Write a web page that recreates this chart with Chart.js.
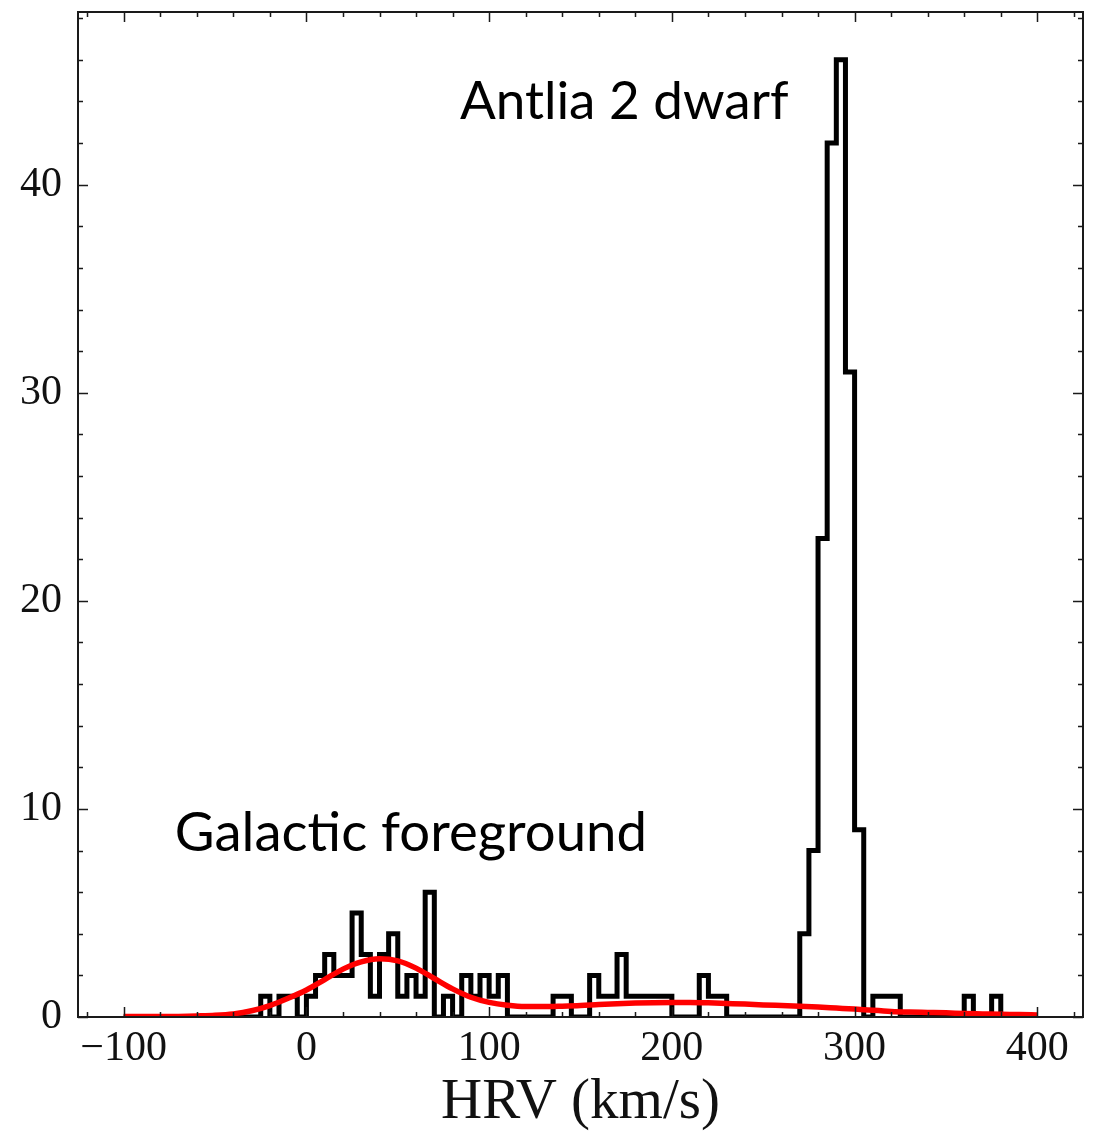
<!DOCTYPE html>
<html>
<head>
<meta charset="utf-8">
<script src="https://cdn.jsdelivr.net/npm/chart.js@4.4.1/dist/chart.umd.min.js"></script>
<style>
  html, body { margin: 0; padding: 0; background: #fff; }
  #wrap { width: 1099px; height: 1138px; position: relative; }
</style>
</head>
<body>
<div id="wrap"><canvas id="c" width="1099" height="1138"></canvas></div>
<script>
// Velocity histogram, 5 km/s bins starting at -100 km/s
const binStart = -100;
const binWidth = 5;
const counts = [
  0, 0, 0, 0, 0, 0, 0, 0, 0, 0,     // -100 .. -55
  0, 0, 0, 0, 0, 1, 0, 1, 1, 0,     //  -50 .. -5
  1, 2, 3, 2, 2, 5, 3, 1, 3, 4,     //    0 .. 45
  1, 2, 1, 6, 0, 1, 0, 2, 1, 2,     //   50 .. 95
  1, 2, 0, 0, 0, 0, 0, 1, 1, 0,     //  100 .. 145
  0, 2, 1, 1, 3, 1, 1, 1, 1, 1,     //  150 .. 195
  0, 0, 0, 2, 1, 1, 0, 0, 0, 0,     //  200 .. 245
  0, 0, 0, 0, 4, 8, 23, 42, 46, 31, //  250 .. 295
  9, 0, 1, 1, 1, 0, 0, 0, 0, 0,     //  300 .. 345
  0, 0, 1, 0, 0, 1, 0, 0, 0, 0      //  350 .. 395
];

// Foreground model curve
const modelVelocity = [
  -100, -90, -80, -70, -60, -50, -40, -30, -20, -10,
  0, 10, 20, 30, 40, 50, 60, 70, 80, 90,
  100, 110, 120, 130, 140, 150, 160, 170, 180, 190,
  200, 210, 220, 230, 240, 250, 260, 270, 280, 290,
  300, 310, 320, 330, 340, 350, 360, 370, 380, 390, 400
];
const modelCounts = [
  0.02, 0.02, 0.02, 0.03, 0.05, 0.08, 0.15, 0.30, 0.55, 0.90,
  1.30, 1.80, 2.30, 2.65, 2.80, 2.70, 2.35, 1.85, 1.35, 0.95,
  0.70, 0.56, 0.50, 0.50, 0.52, 0.55, 0.60, 0.64, 0.67, 0.69,
  0.70, 0.70, 0.68, 0.65, 0.62, 0.58, 0.55, 0.52, 0.48, 0.43,
  0.38, 0.32, 0.27, 0.24, 0.22, 0.20, 0.17, 0.15, 0.13, 0.12, 0.10
];

// Axis ticks
const xMajorTicks = [-100, 0, 100, 200, 300, 400];
const xMinorStep = 20;
const yMajorTicks = [0, 10, 20, 30, 40];
const yMinorStep = 2;

const annotations = [
  { text: 'Antlia 2 dwarf', x: 84, y: 43.16, size: 53 },
  { text: 'Galactic foreground', x: -72, y: 7.97, size: 54.5 }
];

// Step outline of the histogram
const histPoints = [{ x: binStart, y: 0 }];
counts.forEach((c, i) => histPoints.push({ x: binStart + i * binWidth, y: c }));
histPoints.push({ x: binStart + counts.length * binWidth, y: counts[counts.length - 1] });
histPoints.push({ x: binStart + counts.length * binWidth, y: 0 });

const modelPoints = modelVelocity.map((v, i) => ({ x: v, y: modelCounts[i] }));

function rangeTicks(lo, hi, step) {
  const out = [];
  for (let v = lo; v <= hi + 1e-9; v += step) out.push({ value: Math.round(v * 1000) / 1000 });
  return out;
}

// Frame with inward ticks on all four sides, plus text labels
const framePlugin = {
  id: 'frame',
  afterDatasetsDraw(chart) {
    const { ctx, chartArea: a, scales: { x, y } } = chart;
    ctx.save();
    ctx.strokeStyle = '#1a1a1a';
    ctx.lineWidth = 1.5;
    x.ticks.forEach(t => {
      const px = Math.round(x.getPixelForValue(t.value)) + 0.5;
      const len = xMajorTicks.includes(t.value) ? 10 : 5;
      ctx.beginPath();
      ctx.moveTo(px, a.bottom); ctx.lineTo(px, a.bottom - len);
      ctx.moveTo(px, a.top); ctx.lineTo(px, a.top + len);
      ctx.stroke();
    });
    y.ticks.forEach(t => {
      const py = Math.round(y.getPixelForValue(t.value)) + 0.5;
      const len = yMajorTicks.includes(t.value) ? 10 : 5;
      ctx.beginPath();
      ctx.moveTo(a.left, py); ctx.lineTo(a.left + len, py);
      ctx.moveTo(a.right, py); ctx.lineTo(a.right - len, py);
      ctx.stroke();
    });
    ctx.lineWidth = 2;
    ctx.strokeRect(a.left, a.top, a.right - a.left, a.bottom - a.top);

    ctx.fillStyle = '#000';
    ctx.textAlign = 'left';
    ctx.textBaseline = 'alphabetic';
    annotations.forEach(n => {
      ctx.font = n.size + 'px Lato, "Open Sans", sans-serif';
      ctx.fillText(n.text, x.getPixelForValue(n.x), y.getPixelForValue(n.y));
    });
    ctx.restore();
  }
};

const tickFont = { family: '"Liberation Serif", "DejaVu Serif", serif', size: 42 };

new Chart(document.getElementById('c'), {
  type: 'line',
  data: {
    datasets: [
      {
        data: modelPoints,
        borderColor: '#ff0000',
        borderWidth: 5.5,
        pointRadius: 0,
        tension: 0.4,
        cubicInterpolationMode: 'monotone',
        fill: false,
        order: 0
      },
      {
        data: histPoints,
        borderColor: '#000000',
        borderWidth: 5,
        pointRadius: 0,
        stepped: 'before',
        borderJoinStyle: 'miter',
        borderCapStyle: 'butt',
        fill: false,
        order: 1
      }
    ]
  },
  options: {
    responsive: false,
    animation: false,
    devicePixelRatio: 1,
    layout: { padding: { top: 12, right: 16, left: 0, bottom: 0 } },
    plugins: { legend: { display: false }, tooltip: { enabled: false } },
    scales: {
      x: {
        type: 'linear',
        min: -125,
        max: 425,
        afterBuildTicks: s => { s.ticks = rangeTicks(-120, 420, xMinorStep); },
        afterFit: s => { s.height = 121; s.paddingLeft = 0; s.paddingRight = 0; },
        grid: { display: false, drawTicks: false },
        border: { display: false },
        ticks: {
          autoSkip: false,
          maxRotation: 0,
          padding: 7,
          color: '#111',
          font: tickFont,
          callback: v => xMajorTicks.includes(v) ? (v < 0 ? '\u2212' + Math.abs(v) : String(v)) : ''
        },
        title: {
          display: true,
          text: 'HRV (km/s)',
          color: '#111',
          font: { family: '"Liberation Serif", "DejaVu Serif", serif', size: 57 },
          padding: { top: 0, bottom: 1 }
        }
      },
      y: {
        type: 'linear',
        min: 0,
        max: 48.3,
        afterBuildTicks: s => { s.ticks = rangeTicks(0, 48, yMinorStep); },
        afterFit: s => { s.width = 78; s.paddingTop = 0; s.paddingBottom = 0; },
        grid: { display: false, drawTicks: false },
        border: { display: false },
        ticks: {
          autoSkip: false,
          padding: 16,
          color: '#111',
          font: tickFont,
          callback: v => yMajorTicks.includes(v) ? String(v) : ''
        }
      }
    }
  },
  plugins: [framePlugin]
});
</script>
</body>
</html>
